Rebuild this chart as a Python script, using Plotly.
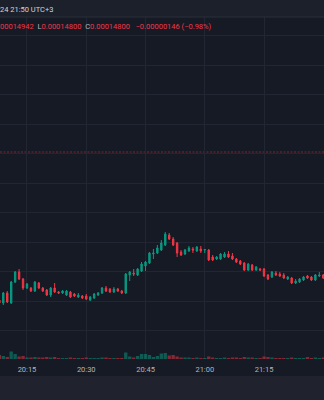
import pandas as pd
import plotly.graph_objects as go

# Prices in units of 1e-8 (0.00014800 -> 14800), 1-minute candles from 20:08 to 21:30
opens = [14778, 14775, 14785, 14775, 14796, 14806, 14799, 14790, 14790, 14787,
         14795, 14790, 14788, 14783, 14790, 14786, 14785, 14783, 14786, 14784,
         14781, 14782, 14782, 14778, 14780, 14783, 14785, 14790, 14789, 14786,
         14789, 14787, 14785, 14803, 14805, 14803, 14807, 14812, 14815, 14824,
         14825, 14828, 14833, 14843, 14839, 14835, 14826, 14824, 14827, 14829,
         14827, 14829, 14828, 14828, 14821, 14819, 14819, 14821, 14824, 14822,
         14819, 14817, 14815, 14808, 14813, 14808, 14809, 14809, 14803, 14801,
         14805, 14804, 14803, 14799, 14800, 14795, 14796, 14798, 14802, 14801,
         14798, 14802, 14803]
highs = [14779, 14786, 14787, 14797, 14807, 14809, 14800, 14795, 14791, 14797,
         14796, 14791, 14789, 14791, 14795, 14787, 14788, 14788, 14787, 14785,
         14785, 14783, 14784, 14782, 14785, 14786, 14791, 14792, 14790, 14791,
         14790, 14788, 14805, 14807, 14809, 14810, 14816, 14817, 14826, 14829,
         14833, 14838, 14846, 14845, 14841, 14836, 14828, 14829, 14832, 14831,
         14832, 14832, 14829, 14829, 14823, 14822, 14825, 14826, 14827, 14825,
         14820, 14818, 14816, 14815, 14814, 14812, 14810, 14810, 14804, 14807,
         14807, 14806, 14805, 14802, 14801, 14799, 14800, 14802, 14803, 14802,
         14804, 14806, 14804]
lows = [14773, 14773, 14775, 14774, 14795, 14798, 14788, 14789, 14786, 14786,
        14789, 14786, 14782, 14781, 14785, 14784, 14784, 14782, 14780, 14781,
        14780, 14779, 14778, 14777, 14779, 14782, 14784, 14786, 14785, 14785,
        14786, 14784, 14784, 14797, 14802, 14802, 14806, 14807, 14814, 14819,
        14824, 14827, 14832, 14838, 14832, 14821, 14822, 14823, 14826, 14825,
        14826, 14825, 14825, 14817, 14817, 14818, 14818, 14820, 14820, 14818,
        14815, 14813, 14807, 14807, 14807, 14807, 14807, 14801, 14798, 14800,
        14802, 14801, 14799, 14798, 14794, 14794, 14795, 14797, 14799, 14797,
        14797, 14801, 14799]
closes = [14775, 14785, 14776, 14796, 14806, 14799, 14790, 14794, 14787, 14796,
          14790, 14787, 14783, 14790, 14786, 14785, 14787, 14787, 14781, 14782,
          14783, 14780, 14779, 14781, 14784, 14785, 14790, 14787, 14786, 14789,
          14787, 14785, 14804, 14806, 14804, 14809, 14814, 14816, 14825, 14825,
          14830, 14835, 14844, 14839, 14833, 14825, 14823, 14828, 14830, 14828,
          14831, 14827, 14828.5, 14818, 14818, 14821, 14824, 14824, 14821, 14819,
          14816, 14814, 14808, 14814, 14808, 14811, 14808, 14802, 14799, 14806,
          14803, 14802, 14800, 14801, 14795, 14797, 14799, 14801, 14800, 14798,
          14803, 14803, 14800]
volumes = [40, 30, 20, 75, 50, 25, 30, 15, 15, 20,
           15, 15, 20, 15, 20, 10, 10, 10, 15, 10,
           10, 10, 15, 10, 10, 10, 15, 15, 10, 10,
           10, 10, 65, 25, 15, 30, 50, 50, 40, 20,
           30, 55, 60, 35, 40, 25, 15, 15, 15, 10,
           15, 10, 10, 25, 15, 10, 10, 15, 10, 15,
           15, 10, 20, 15, 15, 10, 10, 25, 20, 15,
           10, 10, 10, 10, 15, 10, 10, 10, 20, 10,
           15, 10, 15]
prev_close = 14926
start_time = "2024-06-14 20:08"
times = pd.date_range(start_time, periods=len(opens), freq="min")

header_text = "24 21:50 UTC+3"
UP = "#089981"
DOWN = "#f23645"
BG = "#161a25"
GRID = "#222633"
TXT = "#b2b5be"
FONT = "Roboto, sans-serif"

vol_colors = ["rgba(8,153,129,0.5)" if c > o else "rgba(242,54,69,0.5)"
              for o, c in zip(opens, closes)]

fig = go.Figure()
fig.add_trace(go.Bar(x=times, y=volumes, marker_color=vol_colors,
                     marker_line_width=0, yaxis="y2", hoverinfo="skip"))
fig.add_trace(go.Candlestick(
    x=times, open=opens, high=highs, low=lows, close=closes,
    increasing=dict(line=dict(color=UP, width=1), fillcolor=UP),
    decreasing=dict(line=dict(color=DOWN, width=1), fillcolor=DOWN),
    whiskerwidth=0, yaxis="y"))

H = 359.0  # plot-area height in px
def py(p):
    return (H - p) / H

shapes = [
    dict(type="line", xref="paper", x0=0, x1=1, yref="y", y0=prev_close, y1=prev_close,
         line=dict(color="rgba(242,54,69,0.45)", width=1, dash="2px,1.5px"), layer="below"),
    dict(type="rect", xref="paper", x0=0, x1=1, yref="paper", y0=py(17), y1=1,
         fillcolor="#1c202b", line=dict(width=0), layer="above"),
    dict(type="line", xref="paper", x0=0, x1=1, yref="paper", y0=py(17), y1=py(17),
         line=dict(color="#2a2e39", width=1), layer="above"),
    dict(type="rect", xref="paper", x0=0, x1=1, yref="paper", y0=py(400), y1=py(376),
         fillcolor="#20232d", line=dict(width=0), layer="above"),
]

red = DOWN
nb = "\u00a0"
ohlc = (f"<span style='color:{red}'>00014942</span>{nb}{nb}L"
        f"<span style='color:{red}'>0.00014800</span>{nb}{nb}C"
        f"<span style='color:{red}'>0.00014800</span>{nb}{nb}{nb}"
        f"<span style='color:{red}'>\u22120.00000146 (\u22120.98%)</span>")

annotations = [
    dict(text=header_text, xref="paper", x=0, xanchor="left", xshift=-2,
         yref="paper", y=py(9.5), yanchor="middle", showarrow=False,
         font=dict(size=7.5, color="#d1d4dc", family=FONT)),
    dict(text=ohlc, xref="paper", x=0, xanchor="left", xshift=-2,
         yref="paper", y=py(26), yanchor="middle", showarrow=False,
         font=dict(size=7.5, color=TXT, family=FONT)),
]

fig.update_layout(
    width=324, height=400,
    margin=dict(l=0, r=0, t=0, b=41),
    paper_bgcolor=BG, plot_bgcolor=BG,
    showlegend=False,
    boxgap=0.5, bargap=0.15,
    font=dict(family=FONT, size=7.5, color=TXT),
    shapes=shapes, annotations=annotations,
    xaxis=dict(type="date", range=["2024-06-14 20:08:10", "2024-06-14 21:30:11"],
               rangeslider=dict(visible=False), showgrid=True, gridcolor=GRID, gridwidth=1,
               tickformat="%H:%M", tick0="2024-06-14 20:00", dtick=900000,
               tickfont=dict(size=7.5, color=TXT, family=FONT),
               showline=False, zeroline=False, ticks="", ticklabelstandoff=4),
    yaxis=dict(range=[14719, 15078], showticklabels=False, showgrid=True,
               gridcolor=GRID, gridwidth=1, tick0=14836, dtick=29.5,
               zeroline=False, showline=False, fixedrange=True),
    yaxis2=dict(overlaying="y", range=[0, 3590], visible=False, showgrid=False),
)

fig.write_html("out.html")
